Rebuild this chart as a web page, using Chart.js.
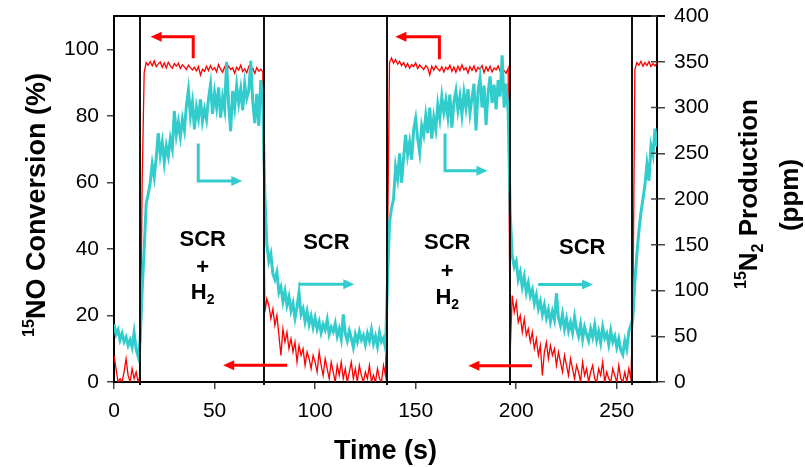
<!DOCTYPE html>
<html><head><meta charset="utf-8">
<script src="https://cdn.jsdelivr.net/npm/chart.js@4.4.1/dist/chart.umd.min.js"></script>
<style>html,body{margin:0;padding:0;background:#fff;}canvas{display:block;}</style>
</head><body>
<canvas id="c" width="805" height="467"></canvas>
<script>
// ---- data (1 s sampling, t = 0 ... 270 s) ----
const noConversion = [ // 15NO conversion, % (left axis)
  8, 4, 0, 1, 0, 3, 7, 2, 0, 4,
  1, 3, 0, 2, 60, 93, 96.0, 95.2, 96.3, 95.0,
  96.5, 94.8, 95.6, 96.2, 94.6, 95.9, 94.4, 96.1, 95.0, 94.3,
  95.7, 94.9, 95.8, 94.2, 95.3, 94.7, 93.9, 95.2, 94.5, 93.8,
  94.6, 93.5, 94.8, 92.2, 94.0, 93.4, 94.9, 93.6, 95.1, 93.8,
  94.5, 93.2, 95.4, 94.0, 93.1, 94.7, 93.5, 95.0, 93.9, 94.4,
  92.8, 94.6, 93.7, 95.2, 93.3, 94.1, 92.9, 94.8, 93.6, 94.3,
  92.7, 94.5, 93.4, 94.0, 93.2, 21, 25, 23, 19, 22,
  17, 20, 14, 8, 16, 12, 15, 10, 13, 9,
  12, 6, 11, 8, 10, 5, 9, 7, 4, 8,
  6, 3, 9, 5, 2, 7, 4, 1, 6, 3,
  0, 5, 2, 6, 1, 4, 0, 3, 6, 1,
  4, 0, 5, 2, 0, 3, 1, 5, 0, 2,
  0, 4, 1, 0, 5, 2, 40, 96, 97.4, 95.8,
  96.9, 95.5, 96.4, 95.1, 96.0, 94.6, 95.7, 94.3, 95.4, 94.8,
  95.9, 94.2, 95.3, 94.6, 93.9, 95.1, 94.4, 92.3, 94.9, 93.7,
  95.0, 94.1, 93.5, 94.8, 93.2, 94.6, 93.9, 95.2, 93.4, 94.7,
  93.1, 94.9, 93.6, 95.3, 93.8, 94.5, 92.9, 94.8, 93.7, 95.0,
  93.3, 94.6, 93.9, 95.1, 93.0, 94.7, 93.5, 94.9, 93.2, 94.4,
  93.8, 95.0, 93.4, 94.2, 93.6, 92.8, 94.3, 9, 26, 21,
  24, 18, 20, 15, 19, 14, 16, 12, 15, 10,
  13, 8, 11, 2, 9, 12, 7, 11, 8, 10,
  5, 9, 6, 3, 8, 5, 2, 7, 4, 1,
  5, 3, 0, 6, 2, 4, 0, 3, 5, 1,
  0, 4, 2, 6, 0, 3, 1, 0, 4, 2,
  0, 5, 1, 0, 3, 0, 4, 1, 20, 94,
  96, 95.2, 96.4, 94.9, 96.0, 95.1, 96.3, 94.8, 95.7, 95.0, 95.9
];
const n2Production = [ // 15N2 production, ppm (right axis)
  63, 52, 57, 46, 53, 44, 49, 40, 46, 38,
  54, 36, 28, 45, 100, 145, 195, 205, 218, 238,
  224, 245, 272, 248, 262, 240, 258, 247, 266, 255,
  296, 270, 284, 268, 287, 275, 302, 319, 291, 306,
  276, 300, 288, 309, 285, 298, 287, 310, 325, 293,
  316, 300, 322, 289, 311, 298, 350, 303, 274, 318,
  300, 324, 305, 320, 297, 326, 310, 318, 351, 306,
  283, 315, 280, 330, 305, 205, 150, 132, 140, 118,
  112, 120, 98, 104, 88, 99, 84, 93, 78, 86,
  70, 82, 98, 74, 80, 66, 77, 63, 72, 60,
  70, 58, 66, 54, 63, 57, 68, 52, 60, 55,
  64, 50, 58, 47, 74, 53, 45, 56, 48, 38,
  52, 44, 55, 46, 51, 41, 53, 45, 57, 42,
  50, 39, 54, 44, 48, 37, 110, 175, 190, 200,
  235, 222, 250, 218, 245, 270, 248, 262, 243, 276,
  288, 266, 251, 280, 270, 291, 272, 300, 266, 289,
  276, 303, 288, 312, 295, 308, 290, 314, 278, 306,
  318, 297, 312, 292, 316, 300, 320, 294, 310, 326,
  275, 318, 332, 300, 324, 281, 316, 334, 305, 325,
  298, 330, 312, 357, 300, 326, 295, 185, 138, 126,
  132, 112, 120, 104, 115, 98, 108, 94, 101, 86,
  95, 80, 88, 74, 84, 70, 79, 66, 77, 68,
  97, 70, 62, 74, 58, 69, 56, 65, 54, 71,
  58, 50, 63, 47, 60, 52, 45, 58, 49, 62,
  46, 55, 43, 60, 48, 53, 41, 56, 44, 50,
  38, 47, 35, 30, 45, 36, 55, 62, 70, 110,
  140, 165, 185, 200, 215, 238, 220, 258, 248, 277, 257
];
const timeStep = 1; // s
const time = noConversion.map((_, i) => i * timeStep);

const xTickValues = [0, 50, 100, 150, 200, 250];
const leftTickValues = [0, 20, 40, 60, 80, 100];
const rightTickValues = [0, 50, 100, 150, 200, 250, 300, 350, 400];
const switchTimes = [12.9, 74.8, 135.8, 196.7, 257.8];

// phase labels: [time (s), conversion-axis value] of the text centre
const phaseLabels = [
  { lines: ['SCR', '+', 'H2'], at: [[44.1, 43.3], [44.1, 34.8], [44.1, 27.3]] },
  { lines: ['SCR'], at: [[105.6, 42.3]] },
  { lines: ['SCR', '+', 'H2'], at: [[165.7, 42.3], [165.7, 33.8], [165.7, 25.9]] },
  { lines: ['SCR'], at: [[232.8, 41.0]] }
];
// arrows: polyline in [time, conversion-axis] units, arrowhead at last point
const arrows = [
  { color: '#ff0000', pts: [[39.4, 97.3], [39.4, 103.8], [18.2, 103.8]] },
  { color: '#ff0000', pts: [[161.8, 97.0], [161.8, 103.8], [139.9, 103.8]] },
  { color: '#33cccc', pts: [[41.9, 71.7], [41.9, 60.4], [63.8, 60.4]] },
  { color: '#33cccc', pts: [[164.6, 74.7], [164.6, 63.5], [185.7, 63.5]] },
  { color: '#33cccc', pts: [[91.7, 29.4], [119.5, 29.4]] },
  { color: '#33cccc', pts: [[210.9, 29.3], [238.2, 29.3]] },
  { color: '#ff0000', pts: [[86.1, 5.0], [54.3, 5.0]] },
  { color: '#ff0000', pts: [[207.9, 4.9], [176.2, 4.9]] }
];

const FONT = '"Liberation Sans", Arial, Helvetica, sans-serif';

function drawRich(ctx, parts, x, y, angle) {
  ctx.save();
  ctx.translate(x, y);
  ctx.rotate(angle);
  let w = 0;
  for (const p of parts) { ctx.font = `bold ${p.size}px ${FONT}`; w += ctx.measureText(p.text).width; }
  let cx = -w / 2;
  ctx.textAlign = 'left';
  ctx.textBaseline = 'alphabetic';
  ctx.fillStyle = '#000';
  for (const p of parts) {
    ctx.font = `bold ${p.size}px ${FONT}`;
    ctx.fillText(p.text, cx, p.dy || 0);
    cx += ctx.measureText(p.text).width;
  }
  ctx.restore();
}

const decorPlugin = {
  id: 'decor',
  afterDatasetsDraw(chart) {
    const { ctx, chartArea: a, scales } = chart;
    const xs = scales.x, yl = scales.yL, yr = scales.yR;
    ctx.save();
    // switching lines
    ctx.strokeStyle = '#111';
    ctx.lineWidth = 2;
    for (const t of switchTimes) {
      const px = Math.round(xs.getPixelForValue(t));
      ctx.beginPath(); ctx.moveTo(px, a.top); ctx.lineTo(px, a.bottom + 3); ctx.stroke();
    }
    // top frame
    ctx.strokeStyle = '#000';
    ctx.beginPath(); ctx.moveTo(a.left - 1, a.top); ctx.lineTo(a.right + 8, a.top); ctx.stroke();
    // inner part of right ticks
    ctx.strokeStyle = '#444';
    ctx.lineWidth = 1.5;
    for (const v of rightTickValues) {
      const py = yr.getPixelForValue(v);
      ctx.beginPath(); ctx.moveTo(a.right - 6, py); ctx.lineTo(a.right, py); ctx.stroke();
    }
    // arrows
    for (const ar of arrows) {
      const P = ar.pts.map(p => [xs.getPixelForValue(p[0]), yl.getPixelForValue(p[1])]);
      const n = P.length;
      const [tx, ty] = P[n - 1], [sx, sy] = P[n - 2];
      const ang = Math.atan2(ty - sy, tx - sx);
      const head = 11, half = 5;
      ctx.strokeStyle = ar.color; ctx.fillStyle = ar.color; ctx.lineWidth = 3;
      ctx.lineJoin = 'miter'; ctx.lineCap = 'butt';
      ctx.beginPath();
      ctx.moveTo(P[0][0], P[0][1]);
      for (let i = 1; i < n - 1; i++) ctx.lineTo(P[i][0], P[i][1]);
      ctx.lineTo(tx - Math.cos(ang) * (head - 1), ty - Math.sin(ang) * (head - 1));
      ctx.stroke();
      ctx.beginPath();
      ctx.moveTo(tx, ty);
      ctx.lineTo(tx - Math.cos(ang) * head - Math.sin(ang) * half, ty - Math.sin(ang) * head + Math.cos(ang) * half);
      ctx.lineTo(tx - Math.cos(ang) * head + Math.sin(ang) * half, ty - Math.sin(ang) * head - Math.cos(ang) * half);
      ctx.closePath(); ctx.fill();
    }
    // phase labels
    for (const lab of phaseLabels) {
      lab.lines.forEach((txt, i) => {
        const px = xs.getPixelForValue(lab.at[i][0]);
        const py = yl.getPixelForValue(lab.at[i][1]);
        if (txt === 'H2') {
          drawRich(ctx, [{ text: 'H', size: 22 }, { text: '2', size: 14, dy: 5 }], px, py + 8, 0);
        } else {
          drawRich(ctx, [{ text: txt, size: 22 }], px, py + 8, 0);
        }
      });
    }
    // axis titles
    drawRich(ctx, [{ text: '15', size: 16, dy: -11 }, { text: 'NO Conversion (%)', size: 27 }], 45, 205, -Math.PI / 2);
    drawRich(ctx, [{ text: '15', size: 16, dy: -11 }, { text: 'N', size: 26 }, { text: '2', size: 16, dy: 6 }, { text: ' Production', size: 26 }], 757, 194, -Math.PI / 2);
    drawRich(ctx, [{ text: '(ppm)', size: 26 }], 798, 195, -Math.PI / 2);
    drawRich(ctx, [{ text: 'Time (s)', size: 27 }], (a.left + a.right) / 2, 459, 0);
    ctx.restore();
  }
};

const tickFont = { family: FONT, size: 21 };
const noPadY = s => { s.paddingTop = 0; s.paddingBottom = 0; };

new Chart(document.getElementById('c'), {
  type: 'line',
  data: {
    datasets: [
      {
        label: '15N2 Production (ppm)',
        data: n2Production.map((v, i) => ({ x: time[i], y: v })),
        yAxisID: 'yR',
        borderColor: '#33cccc',
        borderWidth: 3,
        pointRadius: 0,
        tension: 0,
        fill: false
      },
      {
        label: '15NO Conversion (%)',
        data: noConversion.map((v, i) => ({ x: time[i], y: v })),
        yAxisID: 'yL',
        borderColor: '#ff0000',
        borderWidth: 1.3,
        pointRadius: 0,
        tension: 0,
        fill: false
      }
    ]
  },
  options: {
    responsive: false,
    animation: false,
    devicePixelRatio: 1,
    layout: { padding: { top: 16, left: 0, right: 0, bottom: 0 } },
    plugins: { legend: { display: false }, tooltip: { enabled: false } },
    scales: {
      x: {
        type: 'linear', min: 0, max: 270,
        afterBuildTicks: s => { s.ticks = xTickValues.map(v => ({ value: v })); },
        afterFit: s => { s.height = 85; s.paddingLeft = 0; s.paddingRight = 0; },
        ticks: { font: tickFont, color: '#000', padding: 10, maxRotation: 0, autoSkip: false },
        grid: { drawOnChartArea: false, drawTicks: true, tickLength: 7, color: '#444', lineWidth: 1.5 },
        border: { display: true, color: '#000', width: 2 }
      },
      yL: {
        type: 'linear', position: 'left', min: 0, max: 110,
        afterBuildTicks: s => { s.ticks = leftTickValues.map(v => ({ value: v })); },
        afterFit: s => { s.width = 114; noPadY(s); },
        ticks: { font: tickFont, color: '#000', padding: 8, autoSkip: false },
        grid: { drawOnChartArea: false, drawTicks: true, tickLength: 7, color: '#444', lineWidth: 1.5 },
        border: { display: true, color: '#000', width: 2 }
      },
      yR: {
        type: 'linear', position: 'right', min: 0, max: 400,
        afterBuildTicks: s => { s.ticks = rightTickValues.map(v => ({ value: v })); },
        afterFit: s => { s.width = 148; noPadY(s); },
        ticks: { font: tickFont, color: '#000', padding: 9, autoSkip: false },
        grid: { drawOnChartArea: false, drawTicks: true, tickLength: 8, color: '#444', lineWidth: 1.5 },
        border: { display: true, color: '#000', width: 2 }
      }
    }
  },
  plugins: [decorPlugin]
});
</script>
</body></html>
